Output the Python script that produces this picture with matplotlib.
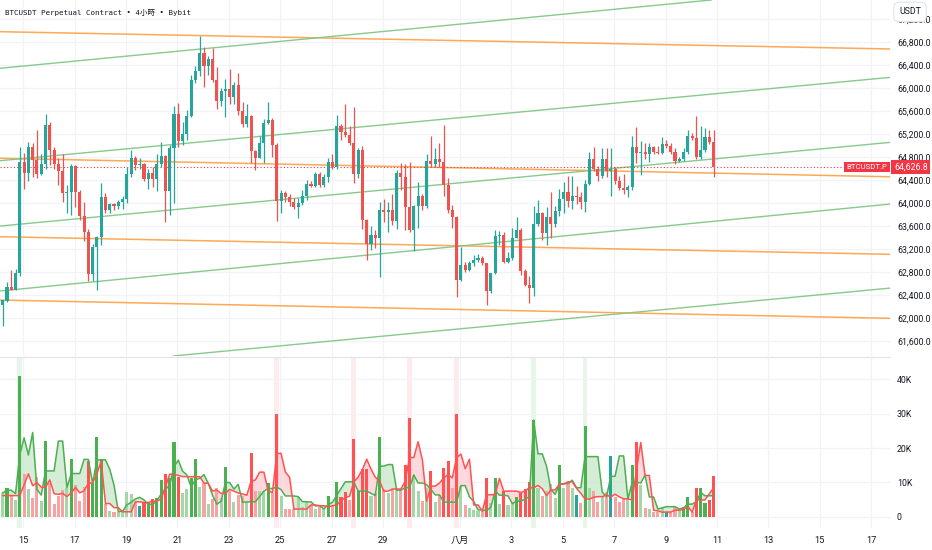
import numpy as np
import pandas as pd
import matplotlib
matplotlib.use('Agg')
import matplotlib.pyplot as plt
from matplotlib.lines import Line2D
import matplotlib.transforms as mtrans

plt.rcParams['font.family'] = ['Roboto', 'Noto Sans CJK TC']

# 4h candles, BTCUSDT perp
opens = [62235, 62300, 62540, 62490, 62790, 64708, 64527, 64979, 64748, 64504,
         64678, 65357, 64922, 64678, 64560, 64170, 64200, 64650, 64200, 63774,
         63500, 62760, 63240, 63414, 64100, 63878, 63983, 63948, 64010, 64070,
         64504, 64790, 64660, 64680, 64417, 64530, 64415, 64678, 64817, 64215,
         64950, 65548, 65080, 65200, 65513, 66139, 66300, 66614, 66383, 66500,
         66139, 65780, 65953, 65980, 65850, 66052, 65600, 65370, 65513, 64905,
         64790, 65040, 65400, 65444, 65010, 64040, 64180, 64100, 64023, 63936,
         64005, 64122, 64330, 64300, 64504, 64313, 64457, 64708, 64630, 65344,
         65240, 65180, 65050, 64504, 64922, 63704, 63280, 63444, 63400, 63878,
         63850, 63878, 63695, 64517, 64457, 63930, 63531, 63940, 64122, 63948,
         64735, 64670, 64760, 64718, 64313, 63878, 63750, 62661, 62922, 62835,
         62950, 63009, 63040, 62950, 62475, 62780, 63426, 63450, 62970, 63050,
         63400, 63530, 62810, 62580, 62520, 63635, 63830, 63470, 63750, 63635,
         63860, 64065, 64190, 64040, 64130, 64110, 64023, 64330, 64774, 64600,
         64470, 64765, 64560, 64590, 64390, 64255, 64226, 64270, 64980, 64865,
         64890, 64850, 64980, 64890, 64875, 65020, 64995, 64890, 64735, 64774,
         64890, 65170, 65125, 64805, 64922, 65150, 65066]
highs = [62320, 62626, 62835, 62850, 64970, 64865, 65066, 65040, 65270, 64852,
         65548, 65404, 64970, 64790, 64852, 64313, 64680, 64660, 64230, 64023,
         63540, 63287, 63426, 64343, 64170, 64000, 64000, 64052, 64120, 64630,
         64922, 64820, 64790, 64700, 64600, 64620, 64852, 65066, 64840, 65010,
         65687, 65734, 65415, 65617, 66226, 66383, 66904, 66708, 66550, 66690,
         66370, 66000, 66150, 66330, 66100, 66266, 65762, 65720, 65530, 64920,
         65165, 65457, 65762, 65480, 65050, 64230, 64210, 64150, 64080, 64080,
         64220, 64400, 64390, 64540, 64540, 64510, 64780, 64850, 65530, 65380,
         65720, 65340, 65665, 64950, 64990, 63720, 63600, 63530, 64023, 64065,
         64023, 64157, 64570, 64700, 64680, 64720, 63970, 64370, 64150, 64852,
         65165, 64950, 65050, 65357, 64430, 63960, 63780, 63240, 62980, 62990,
         63100, 63110, 63080, 62960, 62790, 63530, 63520, 63500, 63150, 63560,
         63750, 63560, 62860, 62730, 63948, 64052, 63850, 63936, 64200, 63940,
         64240, 64370, 64470, 64470, 64290, 64190, 64400, 64890, 64980, 64640,
         64950, 64950, 64950, 64620, 64470, 64510, 64310, 65165, 65330, 65070,
         65050, 65050, 65000, 64990, 65140, 65100, 65050, 64950, 64800, 64950,
         65270, 65210, 65513, 65340, 65310, 65270, 65270]
lows = [61860, 62280, 62480, 62480, 62730, 64240, 64383, 64457, 64430, 64480,
        64590, 64661, 64590, 64313, 64023, 63830, 63790, 63936, 63704, 63348,
        62650, 62650, 62487, 63270, 63830, 63830, 63870, 63900, 63900, 64000,
        64460, 64574, 64600, 64390, 64240, 64270, 64215, 64630, 63665, 63790,
        64005, 64970, 65010, 65096, 65490, 66080, 66209, 66012, 66226, 66110,
        65630, 65687, 65490, 65720, 65720, 65530, 65317, 65330, 64690, 64574,
        64780, 64700, 65380, 64795, 63690, 63830, 64023, 63948, 63890, 63735,
        63960, 64060, 64280, 64280, 64270, 64270, 64370, 64590, 64590, 65096,
        65140, 65010, 64355, 64430, 63545, 63009, 63183, 63210, 62710, 63675,
        63500, 63617, 63545, 64226, 63530, 63500, 63170, 63560, 63880, 63910,
        64620, 64620, 64630, 64122, 63830, 63560, 62370, 62640, 62800, 62810,
        62900, 62980, 62920, 62226, 62440, 62770, 63270, 62950, 62950, 63010,
        63390, 62740, 62560, 62255, 62380, 63600, 63357, 63270, 63400, 63580,
        63780, 63830, 63930, 63900, 63980, 63900, 63840, 64310, 64560, 64390,
        64430, 64460, 64122, 64330, 64220, 64160, 64100, 64220, 64700, 64487,
        64770, 64720, 64850, 64860, 64850, 64965, 64850, 64678, 64720, 64735,
        64860, 65100, 64760, 64770, 64880, 65030, 64457]
closes = [62310, 62540, 62490, 62790, 64708, 64527, 64979, 64748, 64504, 64678,
          65357, 64922, 64678, 64560, 64170, 64200, 64650, 64200, 63774, 63500,
          62760, 63240, 63414, 64100, 63878, 63983, 63948, 64010, 64070, 64504,
          64790, 64660, 64680, 64417, 64530, 64415, 64678, 64817, 64215, 64950,
          65548, 65080, 65200, 65513, 66139, 66300, 66614, 66383, 66500, 66139,
          65780, 65953, 65980, 65850, 66052, 65600, 65370, 65513, 64905, 64790,
          65040, 65400, 65444, 65010, 64040, 64180, 64100, 64023, 63936, 64005,
          64122, 64330, 64300, 64504, 64313, 64457, 64708, 64630, 65344, 65240,
          65180, 65050, 64504, 64922, 63704, 63280, 63444, 63400, 63878, 63850,
          63878, 63695, 64517, 64457, 63930, 63531, 63940, 64122, 63948, 64735,
          64670, 64760, 64718, 64313, 63878, 63750, 62661, 62922, 62835, 62950,
          63009, 63040, 62950, 62475, 62780, 63426, 63450, 62970, 63050, 63400,
          63530, 62810, 62580, 62520, 63635, 63830, 63470, 63750, 63635, 63860,
          64065, 64190, 64040, 64130, 64110, 64023, 64330, 64774, 64600, 64470,
          64765, 64560, 64590, 64390, 64255, 64226, 64270, 64980, 64865, 64890,
          64850, 64980, 64890, 64875, 65020, 64995, 64890, 64735, 64774, 64890,
          65170, 65125, 64805, 64922, 65150, 65066, 64626.8]
# volume in thousands
volumes = [7.0, 8.5, 6.2, 4.9, 41.0, 12.5, 8.0, 5.6, 11.7, 4.7,
           22.0, 9.8, 3.7, 6.2, 7.8, 8.5, 16.7, 9.3, 4.7, 8.8,
           16.2, 9.8, 23.2, 16.7, 3.9, 1.7, 1.5, 1.4, 1.9, 7.2,
           6.6, 4.4, 3.3, 4.0, 4.0, 5.2, 5.4, 10.6, 12.4, 11.4,
           21.6, 11.7, 6.9, 8.1, 11.2, 16.8, 8.8, 9.8, 3.7, 5.2,
           8.5, 5.4, 14.6, 7.5, 4.3, 6.4, 6.2, 4.4, 18.5, 7.5,
           7.5, 7.5, 9.8, 7.1, 29.8, 6.1, 2.3, 2.3, 2.3, 5.9,
           3.0, 4.3, 3.5, 2.3, 3.0, 2.3, 6.2, 3.5, 10.2, 5.9,
           7.3, 4.9, 22.5, 7.5, 13.9, 13.9, 6.2, 6.9, 23.3, 8.1,
           7.1, 8.1, 8.5, 8.1, 15.0, 28.6, 12.2, 7.5, 4.6, 8.5,
           13.3, 4.3, 6.4, 14.3, 16.2, 8.5, 30.0, 9.1, 3.5, 2.5,
           1.9, 1.7, 1.7, 11.2, 4.0, 11.2, 3.7, 7.5, 3.5, 4.4,
           5.9, 7.1, 8.1, 10.2, 28.1, 8.5, 6.2, 7.5, 9.5, 5.6,
           15.0, 8.5, 10.2, 8.5, 6.4, 4.0, 26.5, 8.5, 7.5, 4.3,
           5.9, 7.3, 17.7, 5.9, 4.3, 5.6, 5.2, 15.0, 21.6, 9.3,
           2.5, 2.3, 1.4, 1.4, 3.0, 1.5, 1.4, 3.0, 2.3, 3.0,
           5.9, 1.4, 8.5, 8.3, 4.0, 4.9, 12.0]
spike_bars = [4, 64, 82, 95, 106, 124, 136]
teal_bars = [32, 134, 142, 155]

# drawn trend lines: price at bar 0 and at last bar (166)
orange_lines = [(66978, 66738), (64777, 64520), (63413, 63169), (62312, 62058)]
green_lines = [(66347, 67534), (64740, 65897), (63604, 64766), (62475, 63682), (61059, 62230)]

day_labels = ['15', '17', '19', '21', '23', '25', '27', '29', '八月',
              '3', '5', '7', '9', '11', '13', '15', '17']
day_offsets = [0, 2, 4, 6, 8, 10, 12, 14, 17, 19, 21, 23, 25, 27, 29, 31, 33]

UP, DOWN = '#26a69a', '#ef5350'
GRID = '#f0f3fa'
TXT = '#131722'

o = np.array(opens); h = np.array(highs); l = np.array(lows); c = np.array(closes)
idx = np.arange(len(o))
up = c >= o

fig = plt.figure(figsize=(9.32, 5.5), dpi=100)
ax1 = fig.add_axes([0, 1 - 356 / 550, 890 / 932, 356 / 550])
ax2 = fig.add_axes([0, 22 / 550, 890 / 932, 170 / 550], sharex=ax1)

ticks_x = [4.8 + 6 * d for d in day_offsets]
for ax in (ax1, ax2):
    for s in ax.spines.values():
        s.set_visible(False)
    ax.set_xticks(ticks_x)
    ax.grid(True, color=GRID, lw=0.9)
    ax.set_axisbelow(True)
    ax.yaxis.tick_right()
    ax.tick_params(length=0, labelsize=6.3, colors=TXT)
    ax.tick_params(axis='y', pad=5)
ax1.tick_params(axis='x', labelbottom=False)
ax2.set_xticklabels(day_labels)
ax2.tick_params(axis='x', pad=6, labelsize=6.6)

ax1.set_xlim(-0.63, 207.2)
ax1.set_ylim(61340, 67530)
pticks = np.arange(61600, 67201, 400)
ax1.set_yticks(pticks)
ax1.set_yticklabels([f'{v:,.1f}' for v in pticks])

# trend lines
for a, b in orange_lines:
    ax1.axline((0, a), (166, b), color='#ff9f43', lw=1.1, alpha=0.9, zorder=1)
for a, b in green_lines:
    ax1.axline((0, a), (166, b), color='#81c784', lw=1.0, alpha=0.95, zorder=1)

# candles
col = np.where(up, UP, DOWN)
ax1.vlines(idx, l, h, colors=col, lw=0.9, zorder=3)
body = np.maximum(np.abs(c - o), 12)
ax1.bar(idx, body, bottom=np.minimum(o, c), width=0.72, color=col, zorder=4, linewidth=0)

# last price line + labels
last = c[-1]
ax1.axhline(last, color='#f23645', lw=0.8, ls=(0, (1, 2)), zorder=2)
tr = mtrans.blended_transform_factory(ax1.transAxes, ax1.transData)
ax1.text(0.997, last, 'BTCUSDT.P', transform=tr, ha='right', va='center',
         fontsize=5.6, color='white', zorder=6,
         bbox=dict(boxstyle='square,pad=0.3', fc='#f23645', ec='none'))
ax1.text(1.0045, last, f'{last:,.1f}', transform=tr, ha='left', va='center',
         fontsize=6.3, color='white', zorder=6, clip_on=False,
         bbox=dict(boxstyle='square,pad=0.3', fc='#f23645', ec='none'))

# volume pane
ax2.set_ylim(-3.19, 46.09)
ax2.set_yticks([0, 10, 20, 30, 40])
ax2.set_yticklabels(['0', '10K', '20K', '30K', '40K'])

for i in spike_bars:
    ax2.axvspan(i - 0.55, i + 0.55, color='#e8f5e9' if up[i] else '#ffebee', zorder=0, lw=0)

vol = pd.Series(volumes)
dark = (vol > vol.rolling(10, min_periods=1).mean()).values
vcol = []
for i in idx:
    if i in teal_bars:
        vcol.append('#26a69a')
    elif up[i]:
        vcol.append('#4caf50' if dark[i] else '#a5d6a7')
    else:
        vcol.append('#ff5252' if dark[i] else '#f5a3a3')
ax2.bar(idx, volumes, width=0.72, color=vcol, zorder=3, linewidth=0)

upser = pd.Series(up)
buy_line = vol.where(upser).rolling(4, min_periods=1).mean().ffill().bfill().values
sell_line = vol.where(~upser).rolling(4, min_periods=1).mean().ffill().bfill().values
ax2.fill_between(idx, buy_line, sell_line, where=buy_line >= sell_line, interpolate=True,
                 color='#c8e6c9', alpha=0.75, lw=0, zorder=2)
ax2.fill_between(idx, buy_line, sell_line, where=buy_line < sell_line, interpolate=True,
                 color='#ffcdd2', alpha=0.75, lw=0, zorder=2)
ax2.plot(idx, buy_line, color='#4caf50', lw=1.1, zorder=4)
ax2.plot(idx, sell_line, color='#ff5252', lw=1.1, zorder=4)

# pane separator
fig.add_artist(Line2D([0, 890 / 932], [1 - 357 / 550] * 2, color='#e0e3eb', lw=0.8))

fig.text(5 / 932, 1 - 12 / 550, 'BTCUSDT Perpetual Contract • 4小時 • Bybit',
         family=['DejaVu Sans Mono', 'Noto Sans CJK TC'], fontsize=5.4, color=TXT, va='center')
fig.text(910 / 932, 1 - 12 / 550, 'USDT', fontsize=6.3, color=TXT, ha='center', va='center',
         bbox=dict(boxstyle='round,pad=0.6', fc='white', ec='#e0e3eb', lw=0.8))

fig.savefig('out.png', dpi=100)
